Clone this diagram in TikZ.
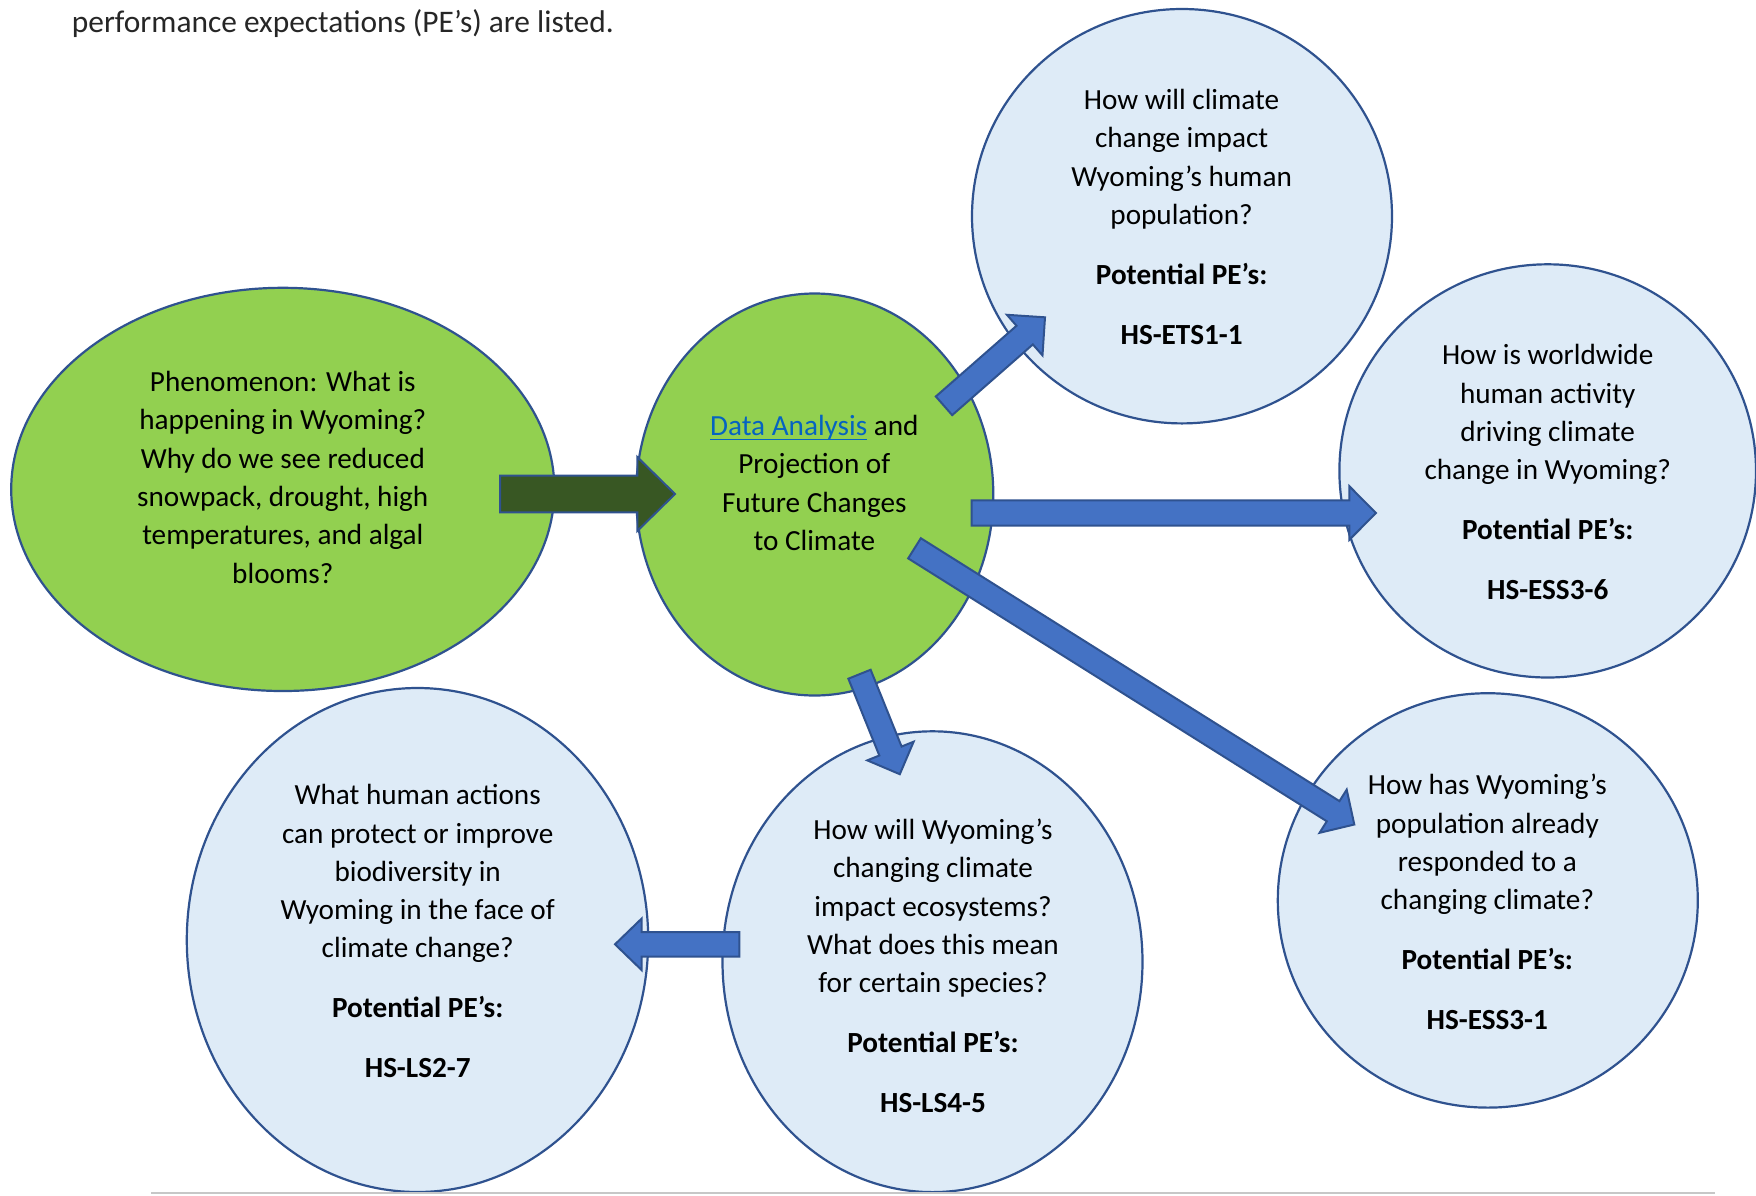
\documentclass[tikz,border=0pt]{standalone}
\usepackage{fontspec}
\setmainfont{Carlito}
\usetikzlibrary{shapes.geometric,calc}
\definecolor{outl}{HTML}{2F528F}
\definecolor{lgreen}{HTML}{92D050}
\definecolor{dgreen}{HTML}{385723}
\definecolor{lblue}{HTML}{DEEBF7}
\definecolor{abblue}{HTML}{4472C4}
\definecolor{linkblue}{HTML}{0563C1}
\newcommand\myul[1]{\leavevmode\setbox0=\hbox{#1}\rlap{\rule[-4.6pt]{\wd0}{1.6pt}}\box0}
\newcommand\blockarrow[6]{%
  \coordinate (#2#3b) at ($(#3)!#6!(#2)$);
  \draw[#1] ($(#2)!#4!90:(#3)$) -- ($(#2#3b)!#4!-90:(#2)$) -- ($(#2#3b)!#5!-90:(#2)$)
    -- (#3) -- ($(#2#3b)!#5!90:(#2)$) -- ($(#2#3b)!#4!90:(#2)$) -- ($(#2)!#4!-90:(#3)$) -- cycle;}
\tikzset{
  bubble/.style={ellipse, draw=outl, line width=2.2pt, inner sep=0pt, outer sep=0pt},
  greenbub/.style={bubble, fill=lgreen},
  bluebub/.style={bubble, fill=lblue},
  txt/.style={font=\fontsize{29.2}{38.3}\selectfont, align=center, inner sep=0pt, anchor=base, text=black},
  bluearrow/.style={fill=abblue, draw=outl, line width=2pt, line join=miter},
  greenarrow/.style={fill=dgreen, draw=outl, line width=2pt, line join=miter},
}
\begin{document}
\begin{tikzpicture}[x=1pt,y=-1pt]
\useasboundingbox (0,0) rectangle (1756,1195);
\fill[white] (0,0) rectangle (1756,1195);

% intro text
\node[anchor=base west, inner sep=0pt, font=\fontsize{31.4}{38}\selectfont, text=black!85] (intro) at (71.7,32) {performance expectations (PE’s) are listed.};

% shapes
\node[greenbub, minimum width=543.2pt, minimum height=403.2pt] (pheno) at (282.8,489.4) {};
\node[greenbub, minimum width=357.2pt, minimum height=402pt] (data) at (814.7,494.5) {};
\node[bluebub, minimum width=420pt, minimum height=414.4pt] (q1) at (1182,216.2) {};
\node[bluebub, minimum width=416.6pt, minimum height=413.2pt] (q2) at (1547.7,470.9) {};
\node[bluebub, minimum width=420pt, minimum height=414.4pt] (q3) at (1487.8,900.4) {};
\node[bluebub, minimum width=420pt, minimum height=460.8pt] (q4) at (932.5,961.7) {};
\node[bluebub, minimum width=461.4pt, minimum height=504pt] (q5) at (417.5,940) {};

% bottom rule
\coordinate (rl) at (151,1193);
\coordinate (rr) at (1715,1193);
\draw[line width=2pt, color=black!22] (rl) -- (rr);

% arrow end points
\coordinate (a1t) at (500,494);   \coordinate (a1h) at (675,494);
\coordinate (a2t) at (944,405.8); \coordinate (a2h) at (1045,317.3);
\coordinate (a3t) at (971.7,513); \coordinate (a3h) at (1376,513);
\coordinate (a4t) at (914.5,548.3); \coordinate (a4h) at (1354.3,824.5);
\coordinate (a5t) at (859.5,674.2); \coordinate (a5h) at (899.8,774.2);
\coordinate (a6t) at (739.3,944.3); \coordinate (a6h) at (615,944.3);

\blockarrow{greenarrow}{a1t}{a1h}{18.3pt}{37pt}{37.7pt}
\blockarrow{bluearrow}{a2t}{a2h}{12.4pt}{27pt}{27pt}
\blockarrow{bluearrow}{a3t}{a3h}{12.6pt}{26.8pt}{26.7pt}
\blockarrow{bluearrow}{a4t}{a4h}{11.9pt}{25.5pt}{25pt}
\blockarrow{bluearrow}{a5t}{a5h}{12pt}{25pt}{25pt}
\blockarrow{bluearrow}{a6t}{a6h}{12.3pt}{25.8pt}{26.7pt}

% texts (anchor = baseline of last line)
\node[txt] (pheno-t) at (282.8,583) {Phenomenon: What is\\happening in Wyoming?\\Why do we see reduced\\snowpack, drought, high\\temperatures, and algal\\blooms?};
\node[txt] (data-t) at (814.3,550.5) {\textcolor{linkblue}{\myul{Data Analysis}} and\\Projection of\\Future Changes\\to Climate};
\node[txt] (q1-t) at (1181.6,344.5) {How will climate\\change impact\\Wyoming’s human\\population?\\[21.7pt]\textbf{Potential PE’s:}\\[21.7pt]\textbf{HS-ETS1-1}};
\node[txt] (q2-t) at (1547.7,599.7) {How is worldwide\\human activity\\driving climate\\change in Wyoming?\\[21.7pt]\textbf{Potential PE’s:}\\[21.7pt]\textbf{HS-ESS3-6}};
\node[txt] (q3-t) at (1487.3,1029.8) {How has Wyoming’s\\population already\\responded to a\\changing climate?\\[21.7pt]\textbf{Potential PE’s:}\\[21.7pt]\textbf{HS-ESS3-1}};
\node[txt] (q4-t) at (933,1112.6) {How will Wyoming’s\\changing climate\\impact ecosystems?\\What does this mean\\for certain species?\\[21.7pt]\textbf{Potential PE’s:}\\[21.7pt]\textbf{HS-LS4-5}};
\node[txt] (q5-t) at (417.7,1077.9) {What human actions\\can protect or improve\\biodiversity in\\Wyoming in the face of\\climate change?\\[21.7pt]\textbf{Potential PE’s:}\\[21.7pt]\textbf{HS-LS2-7}};
\end{tikzpicture}
\end{document}
